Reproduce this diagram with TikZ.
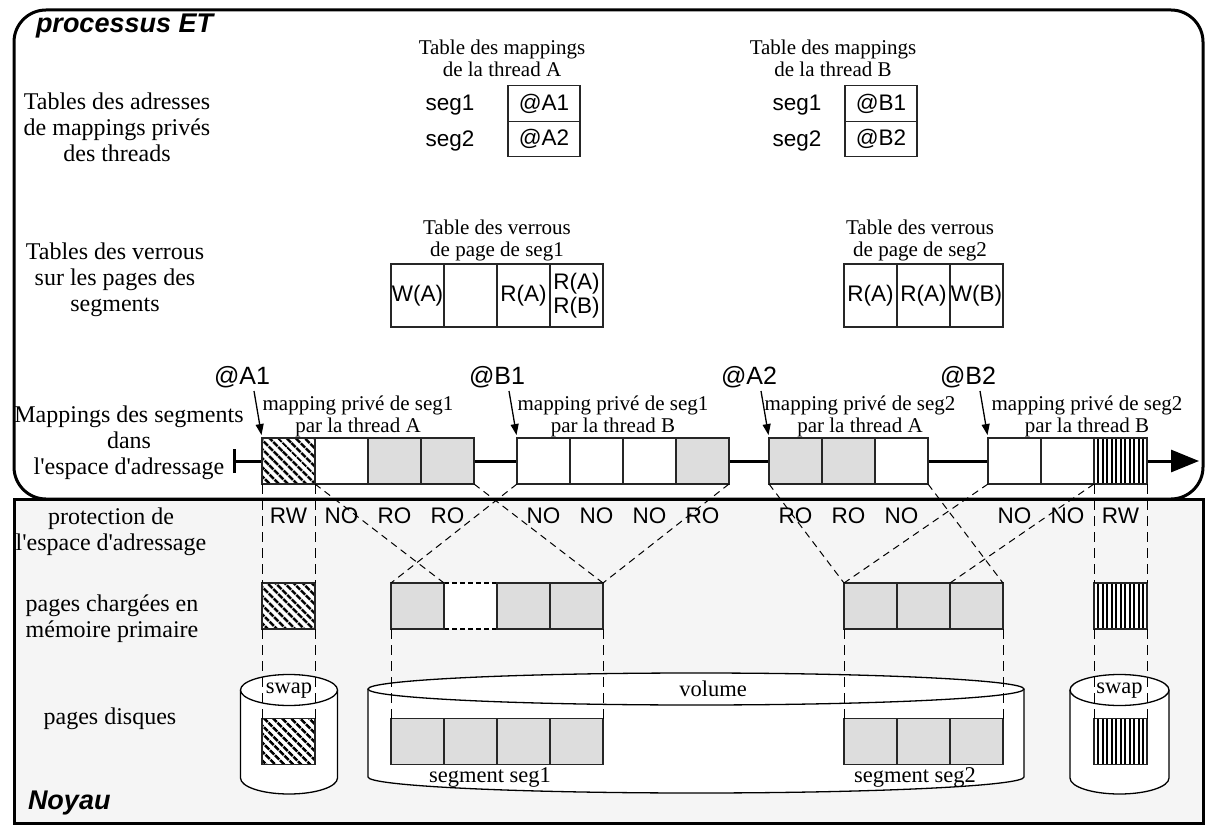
\documentclass[tikz,border=0pt]{standalone}
\usepackage{fontspec}
\setmainfont{Liberation Serif}
\setsansfont{Liberation Sans}
\usetikzlibrary{patterns.meta,arrows.meta}
\definecolor{cellgray}{HTML}{DDDDDD}
\definecolor{kernbg}{HTML}{F5F5F5}
\begin{document}
\begin{tikzpicture}[x=1pt,y=-1pt,
  every node/.style={inner sep=0pt, outer sep=0pt},
  lbl/.style={font=\fontsize{24}{25.8}\selectfont, align=center},
  ttl/.style={font=\fontsize{21}{22}\selectfont, align=center},
  disklbl/.style={font=\fontsize{22.5}{24}\selectfont},
  sfl/.style={font=\sffamily\fontsize{22.5}{24.5}\selectfont, align=center},
  bigsf/.style={font=\sffamily\fontsize{25}{26}\selectfont},
  bigtitle/.style={font=\sffamily\bfseries\itshape\fontsize{27}{30}\selectfont, anchor=west},
  cell/.style={draw=black!85, line width=1.2pt, minimum width=53pt, minimum height=46pt, fill=white},
  grey/.style={fill=cellgray},
  hatchD/.style={preaction={fill=white}, pattern={Lines[angle=-45,distance=6.5pt,line width=3pt]}},
  hatchV/.style={preaction={fill=white}, pattern={Lines[angle=90,distance=4.5pt,line width=2pt]}},
  lock/.style={draw=black!85, line width=1.2pt, minimum width=53pt, minimum height=63pt, sfl},
  addr/.style={draw=black!85, line width=1.2pt, minimum width=72pt, minimum height=35.5pt, sfl},
  proj/.style={dash pattern=on 7pt off 5pt, line width=1pt},
  vproj/.style={dash pattern=on 10pt off 6pt, line width=1pt},
  ptr/.style={line width=1.3pt, shorten >=3pt, -{Triangle[length=11pt,width=8pt]}},
  frame/.style={line width=3pt},
  axis/.style={line width=3pt, {Bar[width=24pt]}-{Triangle[length=28pt,width=22pt]}},
  cyl/.style={draw=black, line width=1.3pt, fill=white},
]
\useasboundingbox (0,0) rectangle (1205,829);

% ---- frames
\draw[frame, fill=white, rounded corners=32pt] (14,10) rectangle (1203,499);
\draw[frame, fill=kernbg] (14,499) rectangle (1203,823);
\node[bigtitle] (pET) at (36,26) {processus ET};
\node[bigtitle] (noy) at (28,803) {Noyau};

% ---- left labels
\node[lbl] (Ladr) at (117,127) {Tables des adresses\\de mappings privés\\des threads};
\node[lbl] (Lver) at (115,280) {Tables des verrous\\sur les pages des\\segments};
\node[lbl] (Lmap) at (129,443) {Mappings des segments\\dans\\l\textquotesingle espace d\textquotesingle adressage};
\node[lbl] (Lprot) at (111,532) {protection de\\l\textquotesingle espace d\textquotesingle adressage};
\node[lbl] (Lmem) at (112,619) {pages chargées en\\mémoire primaire};
\node[lbl] (Ldisk) at (110,719) {pages disques};

% ---- mapping tables
\node[ttl] (tMA) at (502,58) {Table des mappings\\de la thread A};
\node[addr] (A1) at (544,103.5) {@A1};
\node[addr] (A2) at (544,139) {@A2};
\node[sfl] (s1A) at (450,105) {seg1};
\node[sfl] (s2A) at (450,141) {seg2};
\node[ttl] (tMB) at (833,58) {Table des mappings\\de la thread B};
\node[addr] (B1) at (881,103.5) {@B1};
\node[addr] (B2) at (881,139) {@B2};
\node[sfl] (s1B) at (797,105) {seg1};
\node[sfl] (s2B) at (797,141) {seg2};

% ---- lock tables
\node[ttl] (tV1) at (497,240) {Table des verrous\\de page de seg1};
\node[lock] (v11) at (417.5,295.5) {W(A)};
\node[lock] (v12) at (470.5,295.5) {};
\node[lock] (v13) at (523.5,295.5) {R(A)};
\node[lock] (v14) at (576.5,295.5) {R(A)\\R(B)};
\node[ttl] (tV2) at (920,240) {Table des verrous\\de page de seg2};
\node[lock] (v21) at (870.5,295.5) {R(A)};
\node[lock] (v22) at (923.5,295.5) {R(A)};
\node[lock] (v23) at (976.5,295.5) {W(B)};

% ---- address space axis
\coordinate (axL) at (233,461);
\coordinate (axR) at (1199,461);
\draw[axis] (axL) -- (axR);

\node[cell, hatchD] (a1) at (288.5,461) {};
\node[cell] (a2) at (341.5,461) {};
\node[cell, grey] (a3) at (394.5,461) {};
\node[cell, grey] (a4) at (447.5,461) {};
\node[cell] (b1) at (543.5,461) {};
\node[cell] (b2) at (596.5,461) {};
\node[cell] (b3) at (649.5,461) {};
\node[cell, grey] (b4) at (702.5,461) {};
\node[cell, grey] (c1) at (795.5,461) {};
\node[cell, grey] (c2) at (848.5,461) {};
\node[cell] (c3) at (901.5,461) {};
\node[cell] (e1) at (1014.5,461) {};
\node[cell] (e2) at (1067.5,461) {};
\node[cell, hatchV] (e3) at (1120.5,461) {};

% ---- mapping captions and pointers
\node[ttl] (cA1) at (358,416.5) {mapping privé de seg1\\par la thread A};
\node[ttl] (cB1) at (613,416.5) {mapping privé de seg1\\par la thread B};
\node[ttl] (cA2) at (860,416.5) {mapping privé de seg2\\par la thread A};
\node[ttl] (cB2) at (1087,416.5) {mapping privé de seg2\\par la thread B};
\node[bigsf] (lA1) at (242,377) {@A1};
\node[bigsf] (lB1) at (497,377) {@B1};
\node[bigsf] (lA2) at (749,377) {@A2};
\node[bigsf] (lB2) at (968,377) {@B2};
\coordinate (pA1) at (254,391);
\coordinate (pB1) at (509,391);
\coordinate (pA2) at (761,391);
\coordinate (pB2) at (980,391);
\draw[ptr] (pA1) -- (a1.north west);
\draw[ptr] (pB1) -- (b1.north west);
\draw[ptr] (pA2) -- (c1.north west);
\draw[ptr] (pB2) -- (e1.north west);

% ---- protection labels
\foreach \n/\x/\t in {r1/288.5/RW, r2/341.5/NO, r3/394.5/RO, r4/447.5/RO,
  r5/543.5/NO, r6/596.5/NO, r7/649.5/NO, r8/702.5/RO,
  r9/795.5/RO, r10/848.5/RO, r11/901.5/NO,
  r12/1014.5/NO, r13/1067.5/NO, r14/1120.5/RW}
  \node[sfl] (\n) at (\x,516) {\t};

% ---- primary memory pages
\node[cell, hatchD] (m0) at (288.5,606) {};
\node[cell, draw=none] (q2) at (470.5,606) {};
\draw[dash pattern=on 5pt off 3pt, line width=1.2pt] (q2.north west) -- (q2.north east);
\draw[dash pattern=on 5pt off 3pt, line width=1.2pt] (q2.south west) -- (q2.south east);
\node[cell, grey] (q1) at (417.5,606) {};
\node[cell, grey] (q3) at (523.5,606) {};
\node[cell, grey] (q4) at (576.5,606) {};
\node[cell, grey] (w1) at (870.5,606) {};
\node[cell, grey] (w2) at (923.5,606) {};
\node[cell, grey] (w3) at (976.5,606) {};
\node[cell, hatchV] (m9) at (1120.5,606) {};

% ---- disks
\draw[cyl] (240.5,690) -- (240.5,778) arc[start angle=180, end angle=0, x radius=48.5, y radius=16] -- (337.5,690);
\draw[cyl] (289,690) ellipse[x radius=48.5, y radius=15.5];
\draw[cyl] (1070,690) -- (1070,778) arc[start angle=180, end angle=0, x radius=49.5, y radius=16] -- (1169,690);
\draw[cyl] (1119.5,690) ellipse[x radius=49.5, y radius=15.5];
\draw[cyl] (368,689) -- (368,777) arc[start angle=180, end angle=0, x radius=328, y radius=16] -- (1024,689);
\draw[cyl] (696,689) ellipse[x radius=328, y radius=16];

\node[cell, hatchD] (k0) at (288.5,741.5) {};
\node[cell, grey] (d1) at (417.5,741.5) {};
\node[cell, grey] (d2) at (470.5,741.5) {};
\node[cell, grey] (d3) at (523.5,741.5) {};
\node[cell, grey] (d4) at (576.5,741.5) {};
\node[cell, grey] (f1) at (870.5,741.5) {};
\node[cell, grey] (f2) at (923.5,741.5) {};
\node[cell, grey] (f3) at (976.5,741.5) {};
\node[cell, hatchV] (k9) at (1120.5,741.5) {};

\node[disklbl] (sw1) at (289,691) {swap};
\node[disklbl] (sw2) at (1119.5,691) {swap};
\node[disklbl] (vol) at (713,689) {volume};
\node[disklbl] (sg1) at (490,777) {segment seg1};
\node[disklbl] (sg2) at (915,777) {segment seg2};

% ---- projections: address space -> memory
\draw[vproj] (a1.south west) -- (m0.north west);
\draw[vproj] (a1.south east) -- (m0.north east);
\draw[proj] (a2.south west) -- (q2.north west);
\draw[proj] (a4.south east) -- (q4.north east);
\draw[proj] (b1.south west) -- (q1.north west);
\draw[proj] (b4.south east) -- (q4.north east);
\draw[proj] (c1.south west) -- (w1.north west);
\draw[proj] (c3.south east) -- (w3.north east);
\draw[proj] (e1.south west) -- (w1.north west);
\draw[proj] (e3.south west) -- (w2.north east);
\draw[vproj] (e3.south west) -- (m9.north west);
\draw[vproj] (e3.south east) -- (m9.north east);

% ---- projections: memory -> disk
\draw[vproj] (m0.south west) -- (k0.north west);
\draw[vproj] (m0.south east) -- (k0.north east);
\draw[vproj] (q1.south west) -- (d1.north west);
\draw[vproj] (q4.south east) -- (d4.north east);
\draw[vproj] (w1.south west) -- (f1.north west);
\draw[vproj] (w3.south east) -- (f3.north east);
\draw[vproj] (m9.south west) -- (k9.north west);
\draw[vproj] (m9.south east) -- (k9.north east);
\end{tikzpicture}
\end{document}
